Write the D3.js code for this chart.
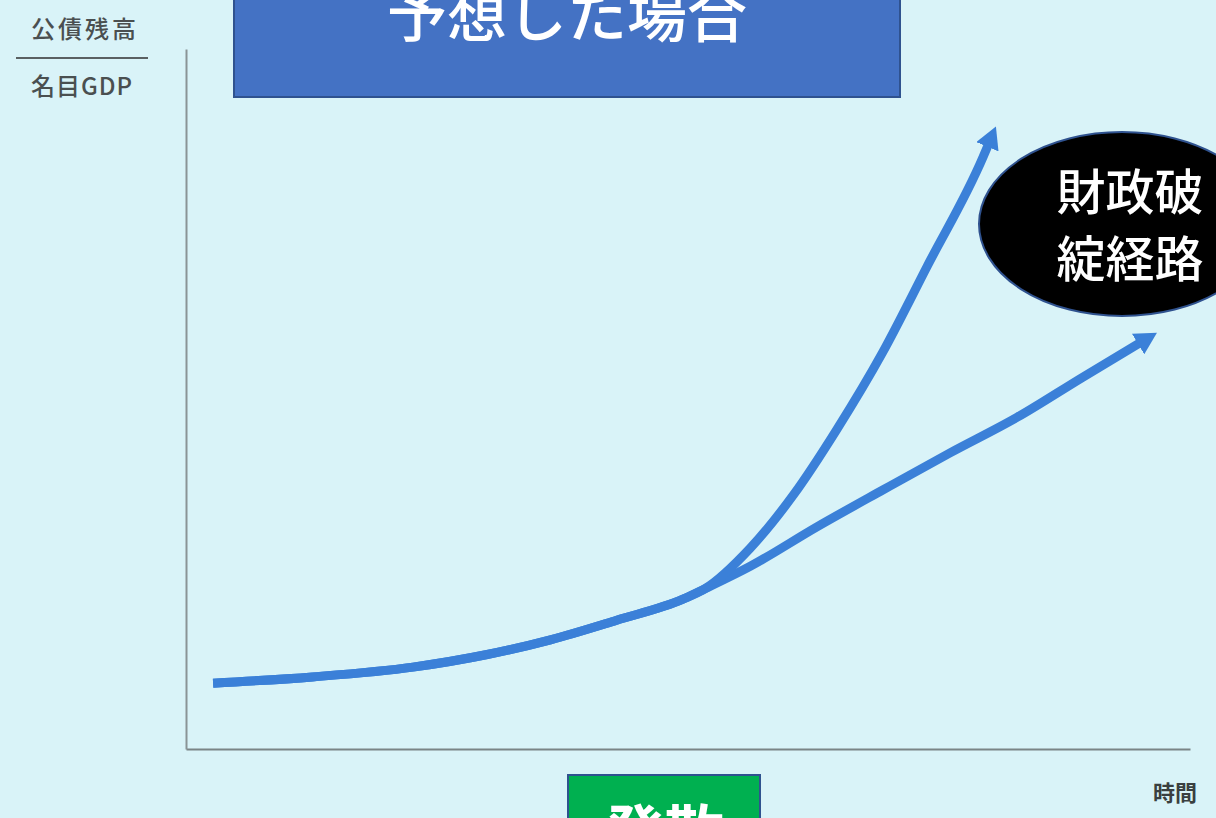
<!DOCTYPE html>
<html>
<head>
<meta charset="utf-8">
<script src="https://cdn.jsdelivr.net/npm/d3@7"></script>
<style>
  html, body { margin: 0; padding: 0; background: #d9f3f8; overflow: hidden; }
  svg { display: block; }
</style>
</head>
<body>
<svg id="chart" width="1216" height="818"></svg>
<script>
// ---- data (time index 0-100, debt/GDP index 0-100) ----
const trunkX = [2.7, 12.6, 22.6, 30.0, 36.3, 42.9, 49.5, 51.7];
const trunkY = [9.4, 10.3, 11.7, 13.5, 15.6, 18.4, 21.4, 22.9];
const steepX = [56.2, 60.5, 64.8, 69.4, 73.8, 79.4, 79.9];
const steepY = [28.7, 36.3, 45.6, 56.7, 68.9, 84.6, 86.3];
const gentleX = [56.2, 62.8, 69.4, 76.1, 82.8, 89.3, 95.0];
const gentleY = [26.1, 31.7, 37.0, 42.3, 47.4, 53.1, 58.0];

const yLabelTop = "公債残高";
const yLabelBottom = "名目GDP";
const xLabel = "時間";
const topBoxText = "予想した場合";
const ellipseLines = ["財政破", "綻経路"];
const bottomBoxText = "発散";

const svg = d3.select("#chart");
const W = 1216, H = 818;
svg.append("rect").attr("width", W).attr("height", H).attr("fill", "#d9f3f8");

const x = d3.scaleLinear().domain([0, 100]).range([186, 1190]);
const y = d3.scaleLinear().domain([0, 100]).range([749, 49]);

const FONT = "'Noto Sans CJK JP', 'Noto Sans', sans-serif";

// axes
const xAxis = d3.axisBottom(x).ticks(0).tickSizeOuter(0);
const yAxis = d3.axisLeft(y).ticks(0).tickSizeOuter(0);
svg.append("g").attr("transform", `translate(0,${y(0)})`).call(xAxis)
  .select(".domain").attr("stroke", "#7a8486").attr("stroke-width", 2);
svg.append("g").attr("transform", `translate(${x(0)},0)`).call(yAxis)
  .select(".domain").attr("stroke", "#8a9496").attr("stroke-width", 2);

// y label (fraction)
svg.append("text").attr("x", 85).attr("y", 38).attr("text-anchor", "middle")
  .attr("font-family", FONT).attr("font-size", 24).attr("font-weight", 500).attr("fill", "#4a4f50")
  .attr("letter-spacing", 3).text(yLabelTop);
svg.append("line").attr("x1", 16).attr("x2", 148).attr("y1", 58).attr("y2", 58)
  .attr("stroke", "#5a6062").attr("stroke-width", 2);
svg.append("text").attr("x", 82).attr("y", 95).attr("text-anchor", "middle")
  .attr("font-family", FONT).attr("font-size", 24).attr("font-weight", 500).attr("fill", "#4a4f50")
  .attr("letter-spacing", 1).text(yLabelBottom);

// x label
svg.append("text").attr("x", 1175).attr("y", 801).attr("text-anchor", "middle")
  .attr("font-family", FONT).attr("font-size", 22).attr("font-weight", 700).attr("fill", "#3a3f40")
  .text(xLabel);

// arrow marker
const CURVE = "#3b80d8";
svg.append("defs").append("marker")
  .attr("id", "head").attr("markerUnits", "userSpaceOnUse")
  .attr("viewBox", "0 -12 22 24").attr("refX", 2).attr("refY", 0)
  .attr("markerWidth", 22).attr("markerHeight", 24).attr("orient", "auto")
  .append("path").attr("d", "M0,-12L22,0L0,12Z").attr("fill", CURVE);

const line = d3.line().x(d => x(d[0])).y(d => y(d[1])).curve(d3.curveMonotoneX);
const pts = (xs, ys) => xs.map((v, i) => [v, ys[i]]);
const trunk = pts(trunkX, trunkY);
const steep = trunk.concat(pts(steepX, steepY));
const gentle = trunk.concat(pts(gentleX, gentleY));

[gentle, steep].forEach(p => {
  svg.append("path").attr("d", line(p)).attr("fill", "none")
    .attr("stroke", CURVE).attr("stroke-width", 9).attr("stroke-linecap", "butt")
    .attr("marker-end", "url(#head)");
});

// top blue box
svg.append("rect").attr("x", 234).attr("y", -20).attr("width", 666).attr("height", 117)
  .attr("fill", "#4472c4").attr("stroke", "#2f528f").attr("stroke-width", 2);
svg.append("text").attr("x", 567).attr("y", 37).attr("text-anchor", "middle")
  .attr("font-family", FONT).attr("font-size", 60).attr("font-weight", 500).attr("fill", "#ffffff")
  .text(topBoxText);

// black ellipse
svg.append("ellipse").attr("cx", 1122).attr("cy", 224).attr("rx", 143).attr("ry", 92)
  .attr("fill", "#000000").attr("stroke", "#2f528f").attr("stroke-width", 2);
ellipseLines.forEach((t, i) => {
  svg.append("text").attr("x", 1130).attr("y", 210 + i * 67).attr("text-anchor", "middle")
    .attr("font-family", FONT).attr("font-size", 49).attr("font-weight", 500).attr("fill", "#ffffff")
    .text(t);
});

// bottom green box
svg.append("rect").attr("x", 568).attr("y", 775).attr("width", 192).attr("height", 80)
  .attr("fill", "#00b050").attr("stroke", "#2f528f").attr("stroke-width", 2);
svg.append("text").attr("x", 664).attr("y", 855).attr("text-anchor", "middle")
  .attr("font-family", FONT).attr("font-size", 60).attr("font-weight", 700).attr("fill", "#ffffff")
  .text(bottomBoxText);
</script>
</body>
</html>
